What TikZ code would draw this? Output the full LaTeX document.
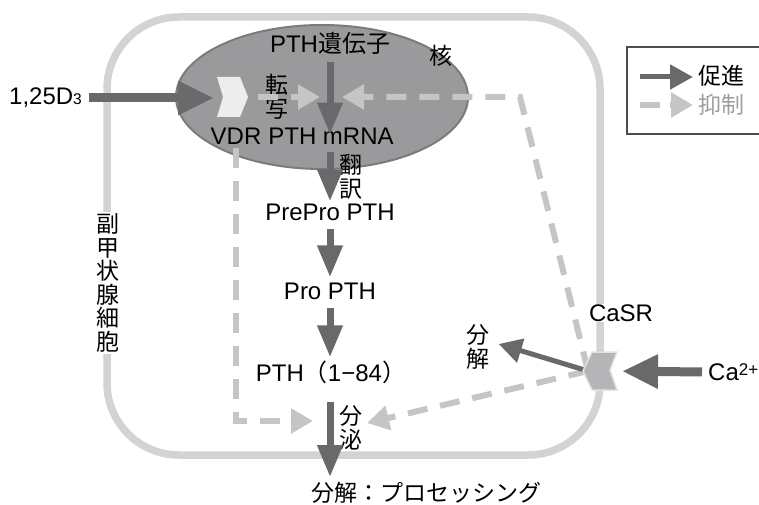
\documentclass[tikz,border=0pt]{standalone}
\usepackage{fontspec}
\setmainfont{Liberation Sans}
\newfontfamily\jp{Noto Sans CJK JP}
\usetikzlibrary{arrows.meta, shapes.geometric}

\definecolor{cellline}{HTML}{D3D3D3}
\definecolor{nucfill}{HTML}{9A9A9C}
\definecolor{nucedge}{HTML}{7B7B7D}
\definecolor{promo}{HTML}{69696B}
\definecolor{inhib}{HTML}{C5C5C5}
\definecolor{vdrfill}{HTML}{EDEDED}
\definecolor{casrfill}{HTML}{B5B5B7}
\definecolor{casredge}{HTML}{E2E2E2}

\begin{document}
\begin{tikzpicture}[x=1pt, y=-1pt,
        every node/.style={font=\fontsize{24}{25}\selectfont, inner sep=1pt},
        jtext/.style={font=\jp\fontsize{23}{23.5}\selectfont, align=center},
        promote/.style={draw=promo, line width=7pt, -{Triangle[length=32pt, width=24pt]}},
        bigpromote/.style={draw=promo, line width=9pt, -{Triangle[length=36pt, width=32pt]}},
        smallpromote/.style={draw=promo, line width=5pt, -{Triangle[length=23pt, width=24pt]}},
        inhibit/.style={draw=inhib, line width=6pt, dash pattern=on 20pt off 13pt, -{Triangle[length=22pt, width=24pt]}}]
    \path[use as bounding box] (0,0) rectangle (759,505);
    \clip (0,0) rectangle (759,505);

    % cell and nucleus
    \draw[cellline, line width=7.5pt, rounded corners=72pt] (107,17) rectangle (600,455);
    \node[ellipse, fill=nucfill, draw=nucedge, line width=2pt, minimum width=292pt, minimum height=144pt] (nuc) at (322,97) {};

    % labels
    \node[jtext, fill=white, inner sep=2pt] (cell) at (108,283) {副\\甲\\状\\腺\\細\\胞};
    \node (gene) at (330,43) {PTH{\jp 遺伝子}};
    \node[jtext] (nuclab) at (441,56) {核};
    \node[jtext] (tx) at (277,97) {転\\写};
    \node (vdrlab) at (236,136) {VDR};
    \node (mrna) at (331,136) {PTH mRNA};
    \node[jtext] (tl) at (351,177) {翻\\訳};
    \node (prepro) at (330,212) {PrePro PTH};
    \node (pro) at (330,291) {Pro PTH};
    \node (pth) at (331,372) {PTH{\jp （}1−84{\jp ）}};
    \node[jtext] (sec) at (351,428) {分\\泌};
    \node[jtext, anchor=west] (proc) at (310,493) {分解：プロセッシング};
    \node[fill=white] (casrlab) at (621,313) {CaSR};
    \node[jtext] (deg) at (478,347) {分\\解};
    \node[anchor=west] (ca) at (707,372) {Ca\raisebox{5pt}{\fontsize{17}{17}\selectfont 2+}};
    \node[anchor=west] (d3) at (8,98) {1,25D{\fontsize{15.5}{16}\selectfont 3}};

    \coordinate (vdr) at (232,97);
    \coordinate (vdrin) at (214,98);
    \coordinate (txin) at (320,97);
    \coordinate (fbin) at (342,97);
    \coordinate (turn) at (520,97);
    \coordinate (casr) at (600,371);
    \coordinate (casrin) at (588,371);
    \coordinate (secL) at (313,421);
    \coordinate (secR) at (367,423);

    % inhibition
    \draw[inhibit, shorten <=26pt] (vdr) -- (txin);
    \draw[inhibit] (casrin) -- (turn) -- (fbin);
    \draw[inhibit, shorten <=3pt] (vdrlab) |- (secL);
    \draw[inhibit] (casrin) -- (secR);

    \fill[vdrfill] (vdr) ++(-15,-20) -- ++(23,0) -- ++(8,20) -- ++(-8,20) -- ++(-23,0) -- ++(6,-20) -- cycle;

    % promotion
    \draw[bigpromote, shorten <=6pt] (d3) -- (vdrin);
    \draw[promote, shorten <=7pt, shorten >=-8pt] (gene) -- (gene |- mrna.north);
    \draw[promote, shorten <=7pt, shorten >=1pt] (mrna.south -| prepro) -- (prepro);
    \draw[promote, shorten <=7pt, shorten >=4pt] (prepro) -- (pro);
    \draw[promote, shorten <=7pt, shorten >=2pt] (pro) -- (pro |- pth.north);
    \draw[promote, shorten <=17pt, shorten >=4pt] (pth.south -| pro) -- (pro |- proc.north);
    \draw[bigpromote, shorten <=5pt, shorten >=22pt] (ca.west) -- (casr);
    \draw[smallpromote] (casrin) -- ([xshift=8pt, yshift=3pt]deg.east);

    \filldraw[fill=casrfill, draw=casredge, line width=1.5pt] (casr) ++(-8,-19) -- ++(25,0) -- ++(-7,18) -- ++(7,20) -- ++(-25,0) -- ++(-9,-19) -- cycle;

    % legend
    \draw[black!70, line width=1.5pt] (627,47) rectangle (790,134);
    \coordinate (lgA) at (640,77);
    \coordinate (lgB) at (693,77);
    \coordinate (lgC) at (640,105);
    \coordinate (lgD) at (693,105);
    \draw[smallpromote] (lgA) -- (lgB);
    \draw[inhibit, dash pattern=on 20pt off 10pt] (lgC) -- (lgD);
    \node[jtext, anchor=west] (lgpro) at (697,76) {促進};
    \node[jtext, anchor=west, text=inhib!80!black] (lginh) at (697,105) {抑制};
\end{tikzpicture}
\end{document}
